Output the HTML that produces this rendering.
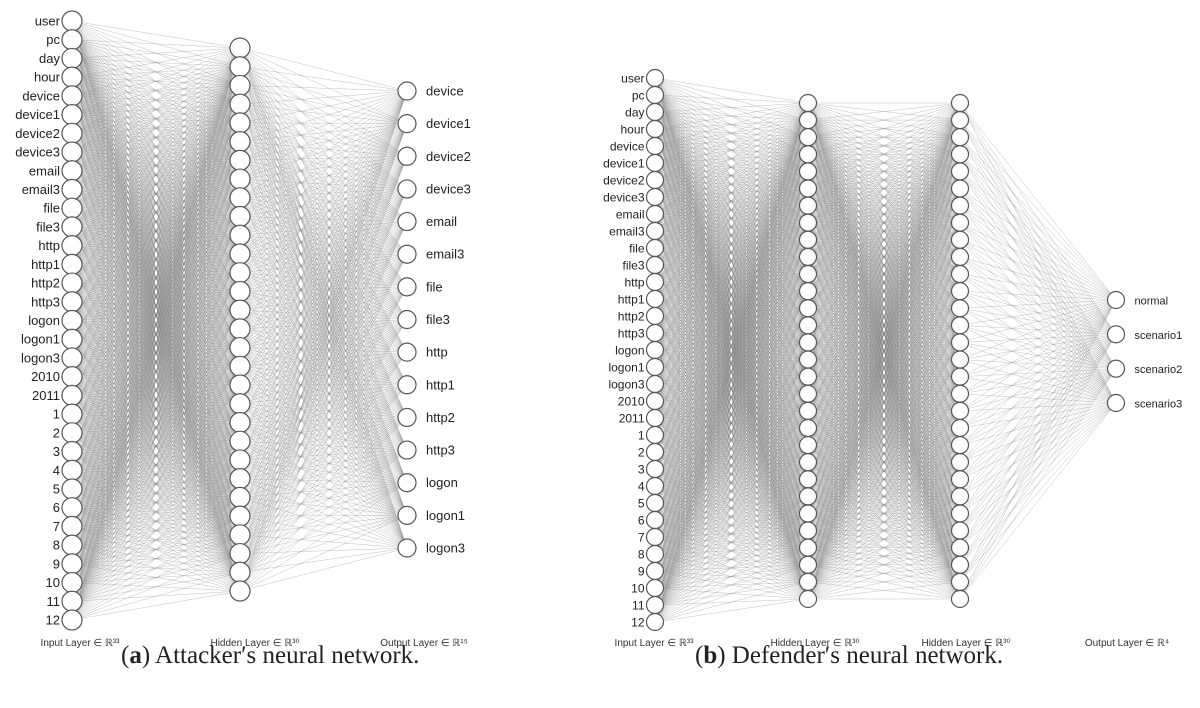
<!DOCTYPE html>
<html><head><meta charset="utf-8"><style>
html,body{margin:0;padding:0;background:#fff;}
body{width:1200px;height:708px;overflow:hidden;position:relative;}
svg{position:absolute;left:0;top:0;}
.cap{position:absolute;top:642px;font-family:"Liberation Serif",serif;font-size:25px;color:#222;white-space:nowrap;}
</style></head><body>
<svg id="s" width="1200" height="708" xmlns="http://www.w3.org/2000/svg" font-family="Liberation Sans, sans-serif"></svg>
<div class="cap" style="left:121px">(<b>a</b>) Attacker′s neural network.</div>
<div class="cap" style="left:695px">(<b>b</b>) Defender′s neural network.</div>
<script>
var s=document.getElementById('s'),NS="http://www.w3.org/2000/svg";
var inL=["user","pc","day","hour","device","device1","device2","device3","email","email3","file","file3","http","http1","http2","http3","logon","logon1","logon3","2010","2011","1","2","3","4","5","6","7","8","9","10","11","12"];
var outA=["device","device1","device2","device3","email","email3","file","file3","http","http1","http2","http3","logon","logon1","logon3"];
var outB=["normal","scenario1","scenario2","scenario3"];
function ys(n,a,b){var r=[];for(var i=0;i<n;i++)r.push(n==1?a:a+(b-a)*i/(n-1));return r;}
var lines="",circ="",txt="";
function layer(x,y,r,labels,side,fs){var o="";for(var i=0;i<y.length;i++){circ+='<circle cx="'+x+'" cy="'+y[i]+'" r="'+r+'" fill="#fff" stroke="#555" stroke-width="1.2"/>';
 if(labels){if(side<0)txt+='<text x="'+(x-r-2)+'" y="'+(y[i]+4.5)+'" text-anchor="end" font-size="'+fs+'" fill="#222">'+labels[i]+'</text>';
 else txt+='<text x="'+(x+r+10)+'" y="'+(y[i]+4.5)+'" font-size="'+fs+'" fill="#222">'+labels[i]+'</text>';}}}
function conn(x1,y1,x2,y2){for(var i=0;i<y1.length;i++)for(var j=0;j<y2.length;j++)lines+='M'+x1+' '+y1[i].toFixed(1)+'L'+x2+' '+y2[j].toFixed(1);}
// left
var a1=ys(33,21,620),a2=ys(30,48,591),a3=ys(15,91,548);
conn(72,a1,240,a2);conn(240,a2,407,a3);
layer(72,a1,10,inL,-1,13);layer(240,a2,10,null);layer(407,a3,9,outA,1,13);
// right
var b1=ys(33,78,622),b2=ys(30,103,599),b3=ys(30,103,599),b4=ys(4,300,403);
conn(655,b1,808,b2);conn(808,b2,960,b3);conn(960,b3,1116,b4);
layer(655,b1,8.5,inL,-1,12);layer(808,b2,8.5,null);layer(960,b3,8.5,null);layer(1116,b4,8.5,outB,1,11);
var h='<path d="'+lines+'" stroke="#808080" stroke-width="0.45" stroke-opacity="0.55" fill="none"/>'+circ+txt;
var L=[[80,"Input Layer ∈ ℝ³³"],[255,"Hidden Layer ∈ ℝ³⁰"],[424,"Output Layer ∈ ℝ¹⁵"],[654,"Input Layer ∈ ℝ³³"],[815,"Hidden Layer ∈ ℝ³⁰"],[966,"Hidden Layer ∈ ℝ³⁰"],[1127,"Output Layer ∈ ℝ⁴"]];
L.forEach(function(l){h+='<text x="'+l[0]+'" y="646" text-anchor="middle" font-size="10" fill="#333">'+l[1]+'</text>';});
s.innerHTML=h;
</script>
</body></html>
